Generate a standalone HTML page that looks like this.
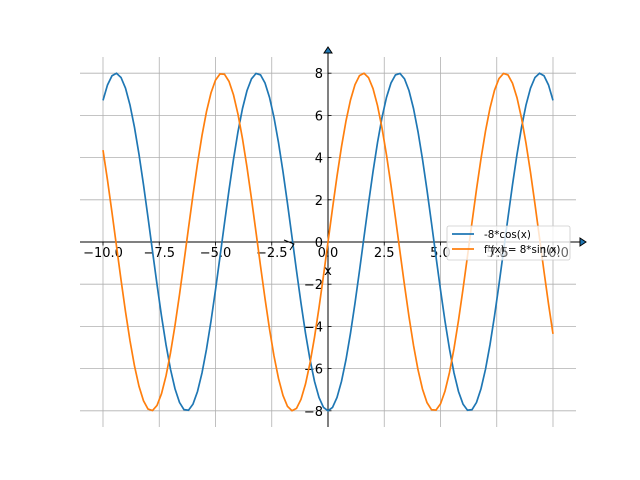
<!DOCTYPE html>
<html><head><meta charset="utf-8"><style>
html,body{margin:0;padding:0;background:#fff;width:640px;height:480px;overflow:hidden}
text{font-family:"DejaVu Sans","Liberation Sans",sans-serif}
</style></head><body>
<svg id="s" width="640" height="480" xmlns="http://www.w3.org/2000/svg">
<g id="grid" stroke="#b0b0b0" stroke-width="0.8"></g>
<g id="ticks"></g>
<line x1="80" y1="242" x2="580" y2="242" stroke="#000" stroke-width="1"/>
<line x1="328" y1="427" x2="328" y2="52" stroke="#000" stroke-width="1"/>
<polygon points="580,238 586,242 580,246" fill="#1f77b4" stroke="#000" stroke-width="1"/>
<polygon points="324,53 328,47 332,53" fill="#1f77b4" stroke="#000" stroke-width="1"/>
<path id="p1" fill="none" stroke="#1f77b4" stroke-width="1.7"/>
<path id="p2" fill="none" stroke="#ff7f0e" stroke-width="1.7"/>
<text x="328" y="275" font-size="13" text-anchor="middle">x</text>
<path d="M284,240 L294,244 L290,250" fill="none" stroke="#000" stroke-width="1"/>
<rect x="447" y="226" width="123" height="34" rx="2" fill="#fff" fill-opacity="0.8" stroke="#ccc" stroke-width="0.8"/>
<line x1="452" y1="234" x2="474" y2="234" stroke="#1f77b4" stroke-width="1.7"/>
<text x="484" y="238" font-size="10.3">-8*cos(x)</text>
<line x1="452" y1="249" x2="474" y2="249" stroke="#ff7f0e" stroke-width="1.7"/>
<text x="484" y="253" font-size="10.3">f'(x) = 8*sin(x)</text>
<text x="488" y="257" font-size="13" fill="#000" fill-opacity="0.6">7.5</text>
<text x="540" y="257" font-size="13" fill="#000" fill-opacity="0.6">10.0</text>
</svg>
<script>
var X=function(v){return 328+v*22.5},Y=function(v){return 242-v*21.1};
var g=document.getElementById('grid'),t=document.getElementById('ticks'),ns="http://www.w3.org/2000/svg";
function el(p,n,a,txt){var e=document.createElementNS(ns,n);for(var k in a)e.setAttribute(k,a[k]);if(txt!=null)e.textContent=txt;p.appendChild(e);}
for(var i=-4;i<=4;i++){var v=i*2.5,x=X(v);
el(g,'line',{x1:x,y1:57,x2:x,y2:427});
el(t,'line',{x1:x,y1:242,x2:x,y2:245.5,stroke:'#000','stroke-width':0.8});
if(i<3||i==0)el(t,'text',{x:x,y:257,'font-size':13,'text-anchor':'middle'},v.toFixed(1).replace('-','\u2212'));
if(i==3)el(t,'text',{x:x,y:257,'font-size':13,'text-anchor':'middle'},'5.0');}
for(var j=-4;j<=4;j++){var v=j*2,y=Y(v);
el(g,'line',{x1:80,y1:y,x2:576,y2:y});
el(t,'line',{x1:328,y1:y,x2:331.5,y2:y,stroke:'#000','stroke-width':0.8});
el(t,'text',{x:323,y:y+5,'font-size':13,'text-anchor':'end'},String(v).replace('-','\u2212'));}
var a='',b='';for(var k=0;k<=100;k++){var v=-10+k*0.2;
a+=(k?'L':'M')+X(v).toFixed(2)+','+Y(-8*Math.cos(v)).toFixed(2);
b+=(k?'L':'M')+X(v).toFixed(2)+','+Y(8*Math.sin(v)).toFixed(2);}
document.getElementById('p1').setAttribute('d',a);document.getElementById('p2').setAttribute('d',b);
</script>
</body></html>
